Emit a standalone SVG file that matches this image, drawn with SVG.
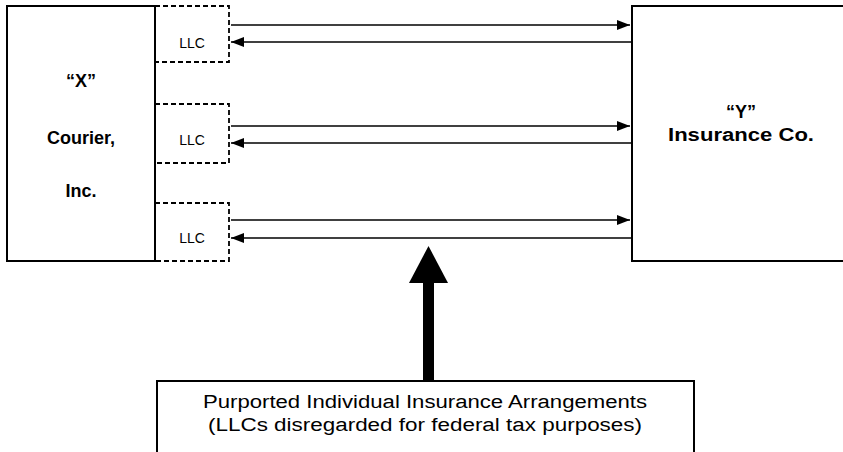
<svg xmlns="http://www.w3.org/2000/svg" width="843" height="452" viewBox="0 0 843 452">
<defs>
<style>
.box{fill:#fff;stroke:#000;stroke-width:2}
.dash{fill:#fff;stroke:#000;stroke-width:1.8;stroke-dasharray:5 3}
.ln{stroke:#000;stroke-width:1.6;fill:none}
.b{font-family:"Liberation Sans",Arial,sans-serif;font-weight:bold;font-size:18px;fill:#000;text-anchor:middle}
.r{font-family:"Liberation Sans",Arial,sans-serif;font-size:18px;fill:#000;text-anchor:middle}
.s{font-family:"Liberation Sans",Arial,sans-serif;font-size:14px;fill:#000;text-anchor:middle}
</style>
<marker id="ah" viewBox="0 0 13 10" refX="13" refY="5" markerWidth="13" markerHeight="10" markerUnits="userSpaceOnUse" orient="auto">
<path d="M0,0 L13,5 L0,10 Z" fill="#000"/>
</marker>
</defs>
<rect width="843" height="452" fill="#fff"/>

<g id="llc1"><rect class="dash" x="155" y="6" width="74" height="56"/><text class="s" x="192" y="48">LLC</text></g>
<g id="llc2"><rect class="dash" x="155" y="104" width="74" height="59"/><text class="s" x="192" y="145">LLC</text></g>
<g id="llc3"><rect class="dash" x="155" y="203" width="74" height="58"/><text class="s" x="192" y="243">LLC</text></g>

<g id="x-courier">
<rect class="box" x="7" y="6" width="148" height="255"/>
<text class="b" x="81" y="87">“X”</text>
<text class="b" x="81" y="144">Courier,</text>
<text class="b" x="81" y="197">Inc.</text>
</g>

<g id="y-insurance">
<rect class="box" x="632" y="6" width="230" height="255"/>
<text class="b" x="741" y="118">“Y”</text>
<text class="b" x="741" y="141" textLength="146" lengthAdjust="spacingAndGlyphs">Insurance Co.</text>
</g>

<g id="connectors">
<line class="ln" x1="231" y1="25" x2="630" y2="25" marker-end="url(#ah)"/>
<line class="ln" x1="632" y1="42" x2="231" y2="42" marker-end="url(#ah)"/>
<line class="ln" x1="231" y1="126" x2="630" y2="126" marker-end="url(#ah)"/>
<line class="ln" x1="632" y1="143" x2="231" y2="143" marker-end="url(#ah)"/>
<line class="ln" x1="231" y1="220" x2="630" y2="220" marker-end="url(#ah)"/>
<line class="ln" x1="632" y1="238" x2="231" y2="238" marker-end="url(#ah)"/>
<rect x="423" y="282" width="11" height="100" fill="#000"/>
<path d="M428.5,246 L448,283 L409,283 Z" fill="#000"/>
</g>

<g id="arrangements">
<rect class="box" x="157" y="381" width="537" height="90"/>
<text class="r" x="425" y="408" textLength="444" lengthAdjust="spacingAndGlyphs">Purported Individual Insurance Arrangements</text>
<text class="r" x="425" y="431" textLength="434" lengthAdjust="spacingAndGlyphs">(LLCs disregarded for federal tax purposes)</text>
</g>
</svg>
